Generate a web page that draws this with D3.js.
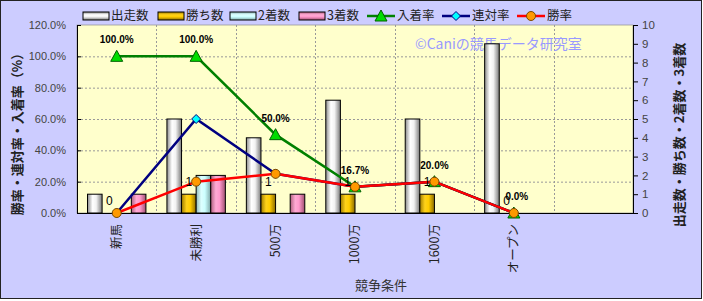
<!DOCTYPE html>
<html><head><meta charset="utf-8">
<script src="https://cdn.jsdelivr.net/npm/d3@7"></script>
<style>
html,body{margin:0;padding:0;background:#fff;}
svg{display:block;}
text{font-family:"Liberation Sans","Noto Sans CJK JP",sans-serif;}
.jp{font-family:"Noto Sans CJK JP","Liberation Sans",sans-serif;}
</style></head>
<body>
<svg id="c" width="703" height="301"></svg>
<script>
const categories = ["新馬","未勝利","500万","1000万","1600万","オープン",""];
const starts   = [1,5,4,6,5,9];
const wins     = [0,1,1,1,1,0];
const seconds  = [0,2,0,0,0,0];
const thirds   = [1,2,1,0,0,0];
const placeRate  = [100,100,50,16.7,20,0];
const rentaiRate = [0,60,25,16.7,20,0];
const winRate    = [0,20,25,16.7,20,0];
const leftTicks  = [0,20,40,60,80,100,120];
const rightTicks = [0,1,2,3,4,5,6,7,8,9,10];
const barSeries = [
  {name:"出走数", values:starts,  grad:"gS"},
  {name:"勝ち数", values:wins,    grad:"gW"},
  {name:"2着数",  values:seconds, grad:"gP"},
  {name:"3着数",  values:thirds,  grad:"gT"}
];
const lineSeries = [
  {name:"入着率", values:placeRate,  color:"#008000", marker:"tri",  mfill:"#00DD00", mstroke:"#006000"},
  {name:"連対率", values:rentaiRate, color:"#000080", marker:"dia",  mfill:"#00FFFF", mstroke:"#000080"},
  {name:"勝率",   values:winRate,    color:"#FF0000", marker:"circ", mfill:"#FF9900", mstroke:"#7a4a00"}
];

const svg = d3.select("#c");
const L=77, R=633, T=25, B=213;

// gradients
const defs = svg.append("defs");
function grad(id, stops, vertical){
  const g = defs.append("linearGradient").attr("id",id)
    .attr("x1","0").attr("y1","0").attr("x2",vertical?"0":"1").attr("y2",vertical?"1":"0");
  stops.forEach(s=>g.append("stop").attr("offset",s[0]).attr("stop-color",s[1]));
}
const gradDefs = {
  gS:[[0,"#8c8c8c"],[0.35,"#ffffff"],[0.6,"#f2f2f2"],[1,"#7a7a7a"]],
  gW:[[0,"#a07c00"],[0.35,"#ffd21a"],[0.6,"#ffcc00"],[1,"#8a6a00"]],
  gP:[[0,"#8fb8b8"],[0.35,"#ddffff"],[0.6,"#ccffff"],[1,"#7fa8a8"]],
  gT:[[0,"#b0607f"],[0.35,"#ffaad4"],[0.6,"#ff99cc"],[1,"#a05070"]]
};
Object.entries(gradDefs).forEach(([k,v])=>{grad(k,v,false);grad(k+"v",v,true);});

// background
svg.append("rect").attr("x",0.5).attr("y",0.5).attr("width",701).attr("height",298)
  .attr("fill","#CCCCFF").attr("stroke","#222").attr("stroke-width",1);
svg.append("rect").attr("x",L).attr("y",T).attr("width",R-L).attr("height",B-T)
  .attr("fill","#FFFFCC").attr("stroke","#999").attr("stroke-width",0.8);

const x = d3.scaleBand().domain(categories).range([L,R]).paddingInner(0).paddingOuter(0);
const bw = x.bandwidth();
const xs = d3.scaleBand().domain(barSeries.map(d=>d.name)).range([10.5,bw-10.5]).padding(0);
const yL = d3.scaleLinear().domain([0,120]).range([B,T]);
const yR = d3.scaleLinear().domain([0,10]).range([B,T]);

// gridlines
const grid = svg.append("g");
leftTicks.filter(t=>t>0 && t<120).forEach(t=>{
  grid.append("line").attr("x1",L).attr("x2",R).attr("y1",yL(t)+0.5).attr("y2",yL(t)+0.5)
    .attr("stroke","#999").attr("stroke-dasharray","2,2");
});
categories.slice(1).forEach(c=>{
  const xx = Math.round(x(c))+0.5;
  grid.append("line").attr("x1",xx).attr("x2",xx).attr("y1",T).attr("y2",B)
    .attr("stroke","#999").attr("stroke-dasharray","2,2");
});

// watermark
svg.append("text").attr("class","jp").attr("x",415).attr("y",49).attr("font-size",14)
  .attr("fill","#9999FF").text("©Caniの競馬データ研究室");

// bars
const barsG = svg.append("g");
barSeries.forEach(s=>{
  s.values.forEach((v,i)=>{
    if(v<=0) return;
    const bx = x(categories[i]) + xs(s.name);
    barsG.append("rect").attr("x",bx).attr("y",yR(v)).attr("width",xs.bandwidth()).attr("height",yR(0)-yR(v))
      .attr("fill",`url(#${s.grad})`).attr("stroke","#000").attr("stroke-width",1);
  });
});

// axes
const axL = svg.append("g").attr("transform",`translate(${L},0)`)
  .call(d3.axisLeft(yL).tickValues(leftTicks).tickFormat(d=>d.toFixed(1)+"%").tickSizeInner(-4).tickSizeOuter(0).tickPadding(11));
axL.select(".domain").attr("stroke","#000");
axL.selectAll("line").attr("stroke","#000");
axL.selectAll("text").attr("font-size",11).attr("fill","#444").attr("font-family","Liberation Sans,sans-serif");

const axR = svg.append("g").attr("transform",`translate(${R},0)`)
  .call(d3.axisRight(yR).tickValues(rightTicks).tickSizeInner(5).tickSizeOuter(0).tickPadding(4));
axR.select(".domain").attr("stroke","#000");
axR.selectAll("line").attr("stroke","#000");
axR.selectAll("text").attr("font-size",11.5).attr("fill","#444").attr("font-family","Liberation Sans,sans-serif");

const axB = svg.append("g").attr("transform",`translate(0,${B})`)
  .call(d3.axisBottom(x).tickSize(0).tickSizeOuter(0));
axB.select(".domain").attr("stroke","#000");
axB.selectAll("text").attr("class","jp").attr("font-size",12.5).attr("fill","#222")
  .attr("text-anchor","end").attr("dy","0.35em").attr("transform","translate(0,11) rotate(-90)").attr("x",0).attr("y",0);

// axis titles
svg.append("text").attr("class","jp").attr("font-size",13).attr("fill","#222").attr("font-weight","bold")
  .attr("text-anchor","middle").attr("transform","translate(22,131) rotate(-90)").text("勝率・連対率・入着率（%）");
svg.append("text").attr("class","jp").attr("font-size",13).attr("fill","#222").attr("font-weight","bold")
  .attr("text-anchor","middle").attr("transform","translate(684,135) rotate(-90)").text("出走数・勝ち数・2着数・3着数");
svg.append("text").attr("class","jp").attr("font-size",13).attr("fill","#333")
  .attr("text-anchor","middle").attr("x",381).attr("y",290).text("競争条件");

// lines
const cx = i => x(categories[i]) + bw/2;
function marker(g, type, px, py, fill, stroke){
  if(type==="tri"){
    g.append("path").attr("d",`M${px},${py-6}L${px+6},${py+5}L${px-6},${py+5}Z`)
      .attr("fill",fill).attr("stroke",stroke).attr("stroke-width",1);
  } else if(type==="dia"){
    g.append("path").attr("d",`M${px},${py-4.5}L${px+4.5},${py}L${px},${py+4.5}L${px-4.5},${py}Z`)
      .attr("fill",fill).attr("stroke",stroke).attr("stroke-width",1);
  } else {
    g.append("circle").attr("cx",px).attr("cy",py).attr("r",4.5)
      .attr("fill",fill).attr("stroke",stroke).attr("stroke-width",1);
  }
}
const linesG = svg.append("g");
lineSeries.forEach(s=>{
  const line = d3.line().x((d,i)=>cx(i)).y(d=>yL(d));
  linesG.append("path").attr("d",line(s.values)).attr("fill","none")
    .attr("stroke",s.color).attr("stroke-width",2.5);
  s.values.forEach((v,i)=>marker(linesG, s.marker, cx(i), yL(v), s.mfill, s.mstroke));
});

// data labels: 入着率
placeRate.forEach((v,i)=>{
  svg.append("text").attr("x",cx(i)+(v===0?3:0)).attr("y",yL(v)-13).attr("text-anchor","middle")
    .attr("font-size",10).attr("font-weight","bold").attr("fill","#000").text(v.toFixed(1)+"%");
});
// data labels: 勝ち数
wins.forEach((v,i)=>{
  svg.append("text").attr("x",x(categories[i])+xs("勝ち数")+xs.bandwidth()/2).attr("y",yR(v)-12)
    .attr("dy","0.35em").attr("text-anchor","middle").attr("font-size",12).attr("fill","#000").text(v);
});

// legend
const lg = svg.append("g");
const legendPos = [
  {sx:83, tx:111}, {sx:158, tx:186}, {sx:230, tx:258}, {sx:299, tx:327},
  {sx:367, tx:397}, {sx:442, tx:472}, {sx:517, tx:547}
];
barSeries.forEach((s,k)=>{
  const p = legendPos[k];
  lg.append("rect").attr("x",p.sx).attr("y",12).attr("width",26).attr("height",8)
    .attr("fill",`url(#${s.grad}v)`).attr("stroke","#000").attr("stroke-width",1);
  lg.append("text").attr("class","jp").attr("x",p.tx).attr("y",16).attr("dy","0.35em")
    .attr("font-size",12.5).attr("fill","#222").text(s.name);
});
lineSeries.forEach((s,k)=>{
  const p = legendPos[k+4];
  lg.append("line").attr("x1",p.sx).attr("x2",p.sx+28).attr("y1",16).attr("y2",16)
    .attr("stroke",s.color).attr("stroke-width",2.5);
  marker(lg, s.marker, p.sx+14, 16, s.mfill, s.mstroke);
  lg.append("text").attr("class","jp").attr("x",p.tx).attr("y",16).attr("dy","0.35em")
    .attr("font-size",12.5).attr("fill","#222").text(s.name);
});
</script>
</body></html>
